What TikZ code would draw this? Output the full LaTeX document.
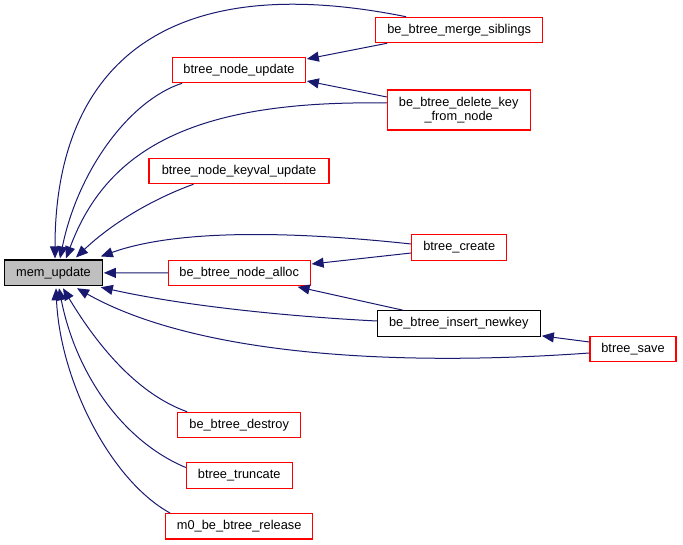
\documentclass[tikz,border=0pt]{standalone}
\usepackage{fontspec}
\setmainfont{Liberation Sans}
\usetikzlibrary{arrows.meta,calc}
\definecolor{edgeblue}{HTML}{191970}
\definecolor{boxred}{HTML}{FF0000}
\definecolor{boxgray}{HTML}{BFBFBF}
\tikzset{
  box/.style={draw=boxred, fill=white, line width=1.1pt, inner sep=0pt, align=center,
    font=\fontsize{12.8}{14.5}\selectfont},
  mainbox/.style={box, draw=black, fill=boxgray},
  blackbox/.style={box, draw=black},
  call/.style={draw=edgeblue, line width=1pt, -{Triangle[length=12pt,width=10pt]}, edgeblue},
}
\begin{document}
\begin{tikzpicture}[x=1pt,y=-1pt]
\useasboundingbox (0,0) rectangle (683,545);
\node[mainbox, minimum width=97.6pt, minimum height=25.7pt] (mem) at (53.5,272.85) {mem\_update};
\node[box, minimum width=132.6pt, minimum height=25.4pt] (nu) at (239,70) {btree\_node\_update};
\node[box, minimum width=167pt, minimum height=25.4pt] (ms) at (459.2,30) {be\_btree\_merge\_siblings};
\node[box, minimum width=142.7pt, minimum height=40pt] (dk) at (458.7,110) {be\_btree\_delete\_key\\\_from\_node};
\node[box, minimum width=180pt, minimum height=25.4pt] (kv) at (239,171) {btree\_node\_keyval\_update};
\node[box, minimum width=95pt, minimum height=25.6pt] (bc) at (459.2,247.5) {btree\_create};
\node[box, minimum width=141.7pt, minimum height=24.6pt] (na) at (239.2,273) {be\_btree\_node\_alloc};
\node[blackbox, minimum width=163pt, minimum height=25.6pt] (in) at (458.8,323.5) {be\_btree\_insert\_newkey};
\node[box, minimum width=86pt, minimum height=25.4pt] (bs) at (633,349) {btree\_save};
\node[box, minimum width=123pt, minimum height=25.4pt] (de) at (239.2,425) {be\_btree\_destroy};
\node[box, minimum width=105.7pt, minimum height=25.6pt] (tr) at (239.2,475.5) {btree\_truncate};
\node[box, minimum width=147pt, minimum height=25.3pt] (m0) at (239.2,526.3) {m0\_be\_btree\_release};

% edges into mem_update (top)
\draw[call] ($(ms.north west)+(31,0)$) .. controls (150,-35) and (55,80) .. ($(mem.north)+(1.5,-1)$);
\draw[call] ($(nu.south west)+(10,0)$) .. controls (130,100) and (78,170) .. ($(mem.north)+(6.5,-1)$);
\draw[call] ($(dk.west)+(0,-7)$) .. controls (200,100) and (108,145) .. ($(mem.north)+(12.5,-1)$);
\draw[call] ($(kv.south west)+(45,0)$) .. controls (150,200) and (110,225) .. ($(mem.north)+(22.5,-2)$);
\draw[call] ($(bc.west)+(0,-3.5)$) .. controls (300,232) and (180,228) .. ($(mem.north east)+(-2,-3)$);
% right side
\draw[call] (na.west) -- ($(mem.east)+(1,0)$);
% bottom
\draw[call] ($(in.west)+(0,-2.5)$) .. controls (280,316) and (180,305) .. ($(mem.south east)+(-2,1)$);
\draw[call] ($(bs.west)+(0,4)$) .. controls (380,368) and (190,352) .. ($(mem.south)+(23.5,2)$);
\draw[call] ($(de.north west)+(10,0)$) .. controls (140,395) and (100,350) .. ($(mem.south)+(9.5,2)$);
\draw[call] ($(tr.west)+(0,-8)$) .. controls (120,440) and (75,370) .. ($(mem.south)+(5.5,2)$);
\draw[call] ($(m0.north west)+(5,0)$) .. controls (110,480) and (60,380) .. ($(mem.south)+(2.5,2)$);
% other edges
\draw[call] ($(ms.south west)+(12,0)$) -- ($(nu.east)+(1,-11)$);
\draw[call] ($(dk.west)+(0,-13)$) -- ($(nu.east)+(1,11)$);
\draw[call] ($(bc.west)+(0,5.5)$) -- ($(na.east)+(1,-9)$);
\draw[call] ($(in.north west)+(26,0)$) -- ($(na.south east)+(-13,1)$);
\draw[call] ($(bs.west)+(0,-7)$) -- ($(in.south east)+(1,-1)$);
\end{tikzpicture}
\end{document}
